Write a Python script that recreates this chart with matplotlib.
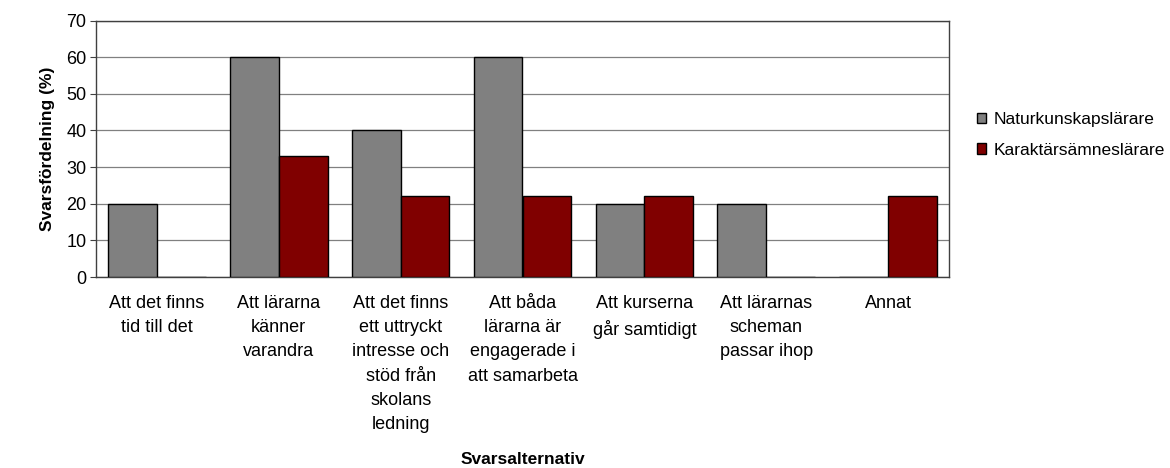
import matplotlib.pyplot as plt
import numpy as np

# answer options (wrapped like the original)
categories = [
    "Att det finns\ntid till det",
    "Att lärarna\nkänner\nvarandra",
    "Att det finns\nett uttryckt\nintresse och\nstöd från\nskolans\nledning",
    "Att båda\nlärarna är\nengagerade i\natt samarbeta",
    "Att kurserna\ngår samtidigt",
    "Att lärarnas\nscheman\npassar ihop",
    "Annat",
]
natur = [20, 60, 40, 60, 20, 20, 0]
karaktar = [0, 33, 22, 22, 22, 0, 22]
series_names = ["Naturkunskapslärare", "Karaktärsämneslärare"]
yticks = [0, 10, 20, 30, 40, 50, 60, 70]

plt.rcParams['font.family'] = ['Liberation Sans', 'DejaVu Sans']

fig = plt.figure(figsize=(11.7, 4.68), dpi=100)
ax = fig.add_axes([96/1170, 1 - 277/468, (949-96)/1170, (277-20.5)/468])

x = np.arange(len(categories))
w = 0.40
ax.bar(x - w/2, natur, w, color='#808080', edgecolor='black', linewidth=1,
       label=series_names[0], zorder=3)
ax.bar(x + w/2, karaktar, w, color='#800000', edgecolor='black', linewidth=1,
       label=series_names[1], zorder=3)

ax.set_xlim(-0.5, len(categories) - 0.5)
ax.set_ylim(0, 70)
ax.set_yticks(yticks)
ax.yaxis.grid(True, color='#808080', linewidth=0.9, zorder=0)
ax.tick_params(axis='y', labelsize=13, length=4, color='#404040', pad=3)
ax.set_xticks(x)
ax.set_xticklabels(categories, fontsize=13, linespacing=1.55)
ax.tick_params(axis='x', length=0, pad=13)
for s in ax.spines.values():
    s.set_color('#404040')
    s.set_linewidth(1)

ax.set_ylabel("Svarsfördelning (%)", fontsize=12.5, fontweight='bold', labelpad=8)
fig.text(523/1170, 1 - 459/468, "Svarsalternativ", fontsize=12.5, fontweight='bold',
         ha='center', va='center')

fig.legend(loc='upper left', bbox_to_anchor=(970/1170, 1 - 105/468), frameon=False,
           fontsize=12.5, handlelength=0.55, handleheight=0.55, handletextpad=0.4,
           labelspacing=0.9, borderaxespad=0)

fig.savefig("out.png", dpi=100)
